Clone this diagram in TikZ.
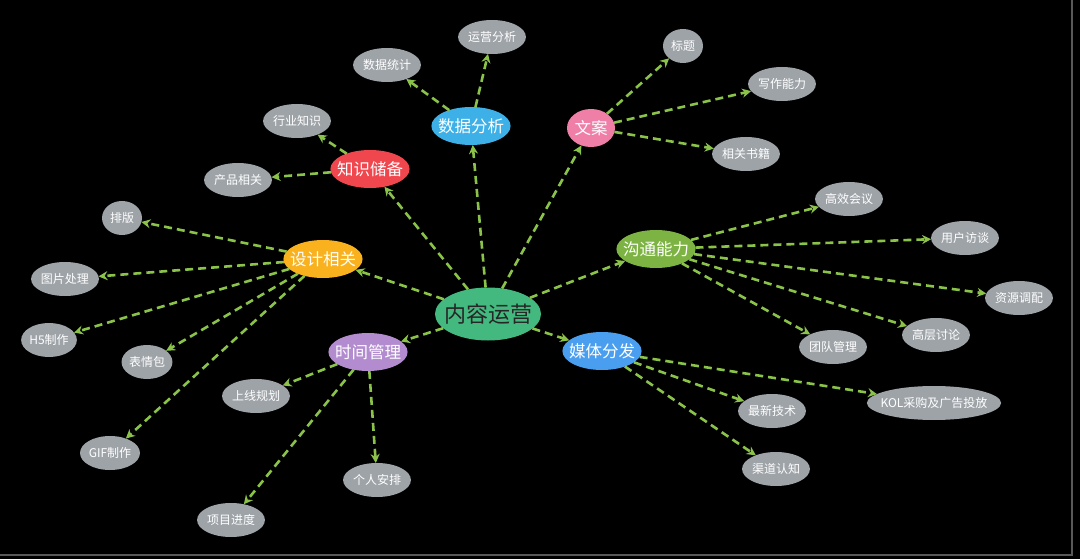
\documentclass[tikz,border=0pt]{standalone}
\usepackage{fontspec}
\newfontfamily\cjk{Noto Sans CJK SC}
\usetikzlibrary{shapes.geometric,arrows.meta}
\definecolor{rootgreen}{HTML}{43B97F}
\definecolor{leafgray}{HTML}{9EA3A8}
\definecolor{linkgreen}{HTML}{8BC34A}
\definecolor{knowred}{HTML}{F0474F}
\definecolor{datablue}{HTML}{3EB0E8}
\definecolor{copypink}{HTML}{F07FA8}
\definecolor{designorange}{HTML}{F9B11D}
\definecolor{talkgreen}{HTML}{7CB342}
\definecolor{mediablue}{HTML}{4A9EF0}
\definecolor{timepurple}{HTML}{B28CCF}
\begin{document}
\begin{tikzpicture}[x=1pt,y=-1pt,inner sep=0pt,outer sep=0pt,
rootnode/.style={ellipse,fill=rootgreen,text=black!85,font=\cjk\fontsize{22}{22}\selectfont,inner xsep=-6.5pt,minimum height=53pt},
branchnode/.style={ellipse,text=white,font=\cjk\fontsize{16.5}{16.5}\selectfont,inner xsep=-5pt,minimum width=48pt,minimum height=38pt},
leafnode/.style={ellipse,fill=leafgray,text=white,font=\cjk\fontsize{12}{12}\selectfont,minimum width=40pt,minimum height=34pt},
link/.style={draw=linkgreen,line width=2.6pt,dash pattern=on 8pt off 5pt,-{Stealth[length=9pt,width=9pt]}}]
\fill[black] (0,0) rectangle (1080,559);
\useasboundingbox (0,0) rectangle (1080,559);
\draw[line width=1.5pt,black!65] (1072,0) -- (1072,555) -- (0,555);
% root and branches
\draw (488,314) node[rootnode] (C) {内容运营};
\draw (370,169) node[branchnode,fill=knowred] (K) {知识储备};
\draw (471,126) node[branchnode,fill=datablue] (D) {数据分析};
\draw (591,128) node[branchnode,fill=copypink] (W) {文案};
\draw (323,259) node[branchnode,fill=designorange] (S) {设计相关};
\draw (368,352) node[branchnode,fill=timepurple] (T) {时间管理};
\draw (656,249) node[branchnode,fill=talkgreen] (G) {沟通能力};
\draw (602,351) node[branchnode,fill=mediablue] (M) {媒体分发};
% leaves
\draw (297,121) node[leafnode] (K1) {行业知识};
\draw (238,180) node[leafnode] (K2) {产品相关};
\draw (387,65) node[leafnode] (D1) {数据统计};
\draw (492,37) node[leafnode] (D2) {运营分析};
\draw (683,46) node[leafnode] (W1) {标题};
\draw (782,84) node[leafnode] (W2) {写作能力};
\draw (746,154) node[leafnode] (W3) {相关书籍};
\draw (849,199) node[leafnode] (G1) {高效会议};
\draw (965,238) node[leafnode] (G2) {用户访谈};
\draw (1019,298) node[leafnode] (G3) {资源调配};
\draw (936,335) node[leafnode] (G4) {高层讨论};
\draw (833,347) node[leafnode] (G5) {团队管理};
\draw (934,403) node[leafnode,inner xsep=-6pt] (M1) {KOL采购及广告投放};
\draw (772,411) node[leafnode] (M2) {最新技术};
\draw (776,469) node[leafnode] (M3) {渠道认知};
\draw (122,218) node[leafnode] (S1) {排版};
\draw (65,279) node[leafnode] (S2) {图片处理};
\draw (49,340) node[leafnode] (S3) {H5制作};
\draw (147,362) node[leafnode] (S4) {表情包};
\draw (110,453) node[leafnode] (S5) {GIF制作};
\draw (256,396) node[leafnode] (T1) {上线规划};
\draw (231,520) node[leafnode] (T2) {项目进度};
\draw (377,480) node[leafnode] (T3) {个人安排};
% links
\foreach \b in {K,D,W,S,T,G,M} \draw[link] (C) -- (\b);
\foreach \l in {K1,K2} \draw[link] (K) -- (\l);
\foreach \l in {D1,D2} \draw[link] (D) -- (\l);
\foreach \l in {W1,W2,W3} \draw[link] (W) -- (\l);
\foreach \l in {G1,G2,G3,G4,G5} \draw[link] (G) -- (\l);
\foreach \l in {M1,M2,M3} \draw[link] (M) -- (\l);
\foreach \l in {S1,S2,S3,S4,S5} \draw[link] (S) -- (\l);
\foreach \l in {T1,T2,T3} \draw[link] (T) -- (\l);
\end{tikzpicture}
\end{document}
